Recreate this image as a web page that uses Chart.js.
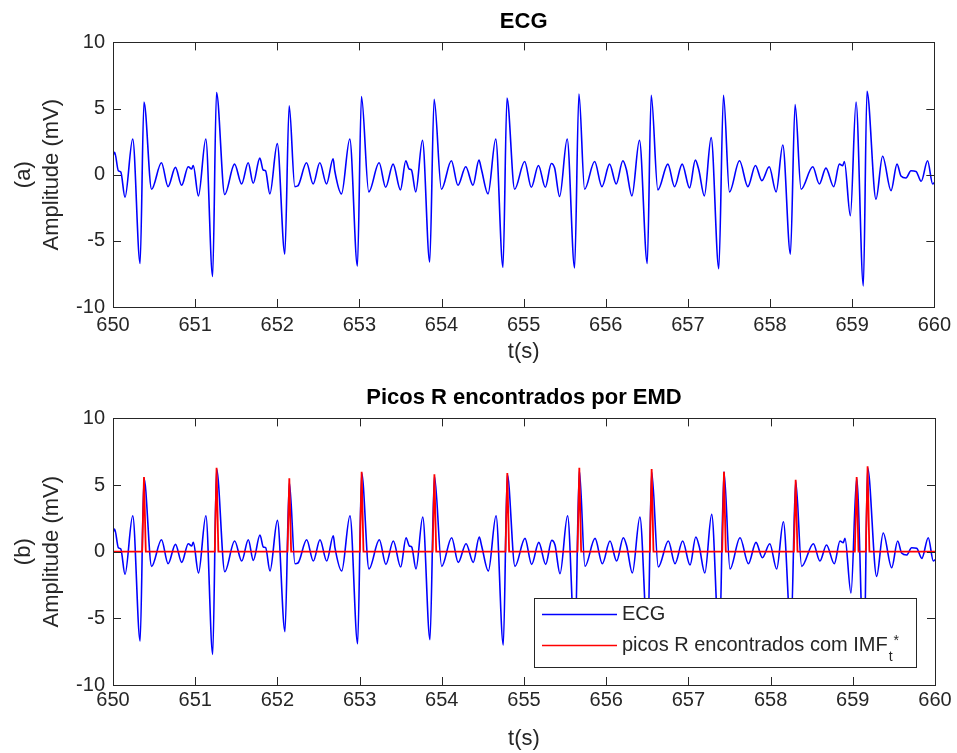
<!DOCTYPE html>
<html>
<head>
<meta charset="utf-8">
<title>ECG - Picos R encontrados por EMD</title>
<script src="https://cdn.jsdelivr.net/npm/chart.js@4/dist/chart.umd.min.js"></script>
<style>
  html, body { margin: 0; padding: 0; background: #fff; }
  #wrap { position: relative; width: 957px; height: 753px; }
  canvas { position: absolute; left: 0; }
</style>
</head>
<body>
<div id="wrap">
  <canvas id="ecg-top" width="957" height="376" style="top:0"></canvas>
  <canvas id="ecg-bottom" width="957" height="377" style="top:376px"></canvas>
</div>
<script>
// ECG (mV), one row per beat
const ecgT = [
  650.00, 650.02, 650.065, 650.095, 650.146, 650.24, 650.33, 650.377,
  650.47, 650.59, 650.67, 650.76, 650.836, 650.916, 650.957, 650.977, 651.04, 651.13, 651.213, 651.26,
  651.36, 651.48, 651.566, 651.646, 651.707, 651.788, 651.829, 651.857, 651.91, 652.0, 652.092, 652.145,
  652.214, 652.25, 652.356, 652.437, 652.518, 652.6, 652.68, 652.70, 652.782, 652.883, 652.976, 653.025,
  653.114, 653.24, 653.32, 653.41, 653.5, 653.565, 653.605, 653.634, 653.686, 653.768, 653.856, 653.91,
  653.999, 654.12, 654.2, 654.295, 654.383, 654.456, 654.485, 654.566, 654.66, 654.748, 654.797,
  654.89, 655.012, 655.093, 655.18, 655.264, 655.337, 655.377, 655.438, 655.53, 655.62, 655.673,
  655.742, 655.864, 655.953, 656.046, 656.127, 656.208, 656.249, 656.318, 656.41, 656.505, 656.553,
  656.634, 656.756, 656.837, 656.93, 657.02, 657.09, 657.133, 657.2, 657.283, 657.376, 657.433,
  657.506, 657.628, 657.73, 657.822, 657.9, 657.99, 658.074, 658.155, 658.248, 658.305,
  658.378, 658.52, 658.6, 658.68, 658.775, 658.844, 658.884, 658.905, 658.978, 659.047, 659.136, 659.18,
  659.29, 659.37, 659.473, 659.546, 659.594, 659.655, 659.716, 659.777, 659.84, 659.918, 659.98, 660.0
];
const ecgV = [
  1.4, 1.7, 0.3, 0.2, -1.7, 2.7, -6.7, 5.5,
  -1.1, 0.9, -0.9, 0.55, -0.8, 0.6, 0.43, 0.7, -1.6, 2.7, -7.7, 6.2,
  -1.5, 0.8, -0.7, 0.9, -0.65, 1.25, 0.35, 0.3, -1.45, 2.35, -6.0, 5.2,
  -0.9, -0.85, 0.9, -0.7, 0.9, -0.7, 1.2, 0.3, -1.45, 2.7, -6.9, 5.9,
  -1.3, 0.9, -0.95, 0.8, -1.15, 1.05, 0.43, 0.35, -1.3, 2.6, -6.6, 5.7,
  -1.1, 1.05, -0.8, 0.6, -0.8, 1.1, 0.43, -1.45, 2.7, -7.0, 5.8,
  -1.1, 1.0, -0.95, 0.7, -0.95, 0.85, 0.5, -1.65, 2.7, -7.05, 6.1,
  -1.1, 1.0, -0.9, 0.8, -0.7, 1.05, 0.43, -1.6, 2.6, -6.7, 6.0,
  -1.15, 0.8, -0.9, 0.8, -1.0, 1.1, 0.35, -1.6, 2.8, -7.1, 6.0,
  -1.3, 1.05, -0.9, 0.7, -0.45, 0.6, -1.3, 2.25, -6.0, 5.3,
  -1.1, 0.6, -0.7, 0.5, -0.9, 0.8, 0.68, 1.0, -3.1, 5.5, -8.4, 6.3,
  -1.85, 1.4, -1.2, 0.8, -0.1, -0.25, 0.3, 0.25, -0.5, 1.05, -0.7, -0.6
];

// R peaks found with IMF (zero outside the peaks)
const picosT = [
  650.0,
  650.355, 650.377, 650.399,
  651.238, 651.26, 651.282,
  652.123, 652.145, 652.167,
  653.003, 653.025, 653.047,
  653.888, 653.91, 653.932,
  654.775, 654.797, 654.819,
  655.651, 655.673, 655.695,
  656.531, 656.553, 656.575,
  657.411, 657.433, 657.455,
  658.283, 658.305, 658.327,
  659.025, 659.047, 659.069,
  659.158, 659.18, 659.202,
  660.0
];
const picosV = [
  0,
  0, 5.6, 0,
  0, 6.3, 0,
  0, 5.5, 0,
  0, 6.0, 0,
  0, 5.8, 0,
  0, 5.9, 0,
  0, 6.3, 0,
  0, 6.2, 0,
  0, 6.0, 0,
  0, 5.4, 0,
  0, 5.6, 0,
  0, 6.4, 0,
  0
];

const xTicks = [650, 651, 652, 653, 654, 655, 656, 657, 658, 659, 660];
const yTicks = [-10, -5, 0, 5, 10];

Chart.defaults.font.family = '"Liberation Sans", Arial, Helvetica, sans-serif';
Chart.defaults.color = '#262626';

const axisColor = '#262626';

// box round the axes with ticks pointing inwards, like matlab
const matlabAxes = {
    id: 'matlabAxes',
    afterDatasetsDraw(chart) {
        const { ctx, chartArea: a, scales: { x, y } } = chart;
        const len = 8;
        ctx.save();
        ctx.strokeStyle = axisColor;
        ctx.lineWidth = 1;
        ctx.beginPath();
        x.ticks.forEach(t => {
            const px = Math.round(x.getPixelForValue(t.value)) + 0.5;
            ctx.moveTo(px, a.bottom);
            ctx.lineTo(px, a.bottom - len);
            ctx.moveTo(px, a.top);
            ctx.lineTo(px, a.top + len);
        });
        y.ticks.forEach(t => {
            const py = Math.round(y.getPixelForValue(t.value)) + 0.5;
            ctx.moveTo(a.left, py);
            ctx.lineTo(a.left + len, py);
            ctx.moveTo(a.right, py);
            ctx.lineTo(a.right - len, py);
        });
        ctx.stroke();
        ctx.strokeRect(Math.round(a.left) + 0.5, Math.round(a.top) + 0.5,
            Math.round(a.width), Math.round(a.height));
        ctx.restore();
    }
};

// legend box in the lower right corner (IMF with subscript t and superscript *)
const boxLegend = {
    id: 'boxLegend',
    afterDraw(chart, args, opts) {
        if (!opts.items) return;
        const { ctx, chartArea: a } = chart;
        const x0 = Math.round(a.right - opts.right - opts.width);
        const y0 = Math.round(a.bottom - opts.bottom - opts.height);
        const fam = Chart.defaults.font.family;
        ctx.save();
        ctx.fillStyle = '#fff';
        ctx.fillRect(x0, y0, opts.width, opts.height);
        ctx.strokeStyle = axisColor;
        ctx.lineWidth = 1;
        ctx.strokeRect(x0 + 0.5, y0 + 0.5, opts.width, opts.height);
        ctx.textBaseline = 'middle';
        opts.items.forEach((it, i) => {
            const ly = y0 + 16.5 + i * 31;
            ctx.strokeStyle = it.color;
            ctx.lineWidth = 1.5;
            ctx.beginPath();
            ctx.moveTo(x0 + 8, ly);
            ctx.lineTo(x0 + 83, ly);
            ctx.stroke();
            ctx.fillStyle = '#262626';
            ctx.font = '20px ' + fam;
            let tx = x0 + 88;
            ctx.fillText(it.text, tx, ly);
            if (it.sub) {
                tx += ctx.measureText(it.text).width + 1;
                ctx.font = '14px ' + fam;
                ctx.fillText(it.sub, tx, ly + 12);
                ctx.fillText(it.sup, tx + ctx.measureText(it.sub).width + 1, ly - 4);
            }
        });
        ctx.restore();
    }
};

function makeChart(id, cfg) {
    const datasets = [{
        label: 'ECG',
        data: ecgT.map((t, i) => ({ x: t, y: ecgV[i] })),
        borderColor: '#0000ff',
        borderWidth: 1.6,
        pointRadius: 0,
        cubicInterpolationMode: 'monotone',
        order: 1
    }];
    if (cfg.picos) {
        datasets.push({
            label: 'picos R encontrados com IMF',
            data: picosT.map((t, i) => ({ x: t, y: picosV[i] })),
            borderColor: '#ff0000',
            borderWidth: 1.8,
            pointRadius: 0,
            tension: 0,
            order: 0
        });
    }
    return new Chart(document.getElementById(id), {
        type: 'line',
        data: { datasets },
        options: {
            responsive: false,
            animation: false,
            devicePixelRatio: 1,
            layout: { padding: { left: 0, right: 22, top: 0, bottom: 0 } },
            plugins: {
                legend: { display: false },
                tooltip: { enabled: false },
                title: {
                    display: true,
                    text: cfg.title,
                    fullSize: false,
                    color: '#000',
                    font: { size: 22, weight: 'bold' },
                    padding: { top: 9, bottom: 7 }
                },
                boxLegend: cfg.legend || {}
            },
            scales: {
                x: {
                    type: 'linear',
                    min: 650,
                    max: 660,
                    afterBuildTicks: s => { s.ticks = xTicks.map(v => ({ value: v })); },
                    afterFit: s => { s.height = cfg.xHeight; },
                    grid: { display: false, drawTicks: false },
                    border: { display: false },
                    ticks: { font: { size: 20 }, padding: cfg.xPad, maxRotation: 0, autoSkip: false },
                    title: {
                        display: true,
                        text: 't(s)',
                        font: { size: 22 },
                        padding: { top: 0, bottom: cfg.xTitlePad }
                    }
                },
                y: {
                    min: -10,
                    max: 10,
                    afterBuildTicks: s => { s.ticks = yTicks.map(v => ({ value: v })); },
                    afterFit: s => { s.width = 113; },
                    grid: { display: false, drawTicks: false },
                    border: { display: false },
                    ticks: { font: { size: 20 }, padding: 8 },
                    title: {
                        display: true,
                        text: [cfg.tag, 'Amplitude (mV)'],
                        font: { size: 22, lineHeight: 1.27 },
                        padding: { top: 10, bottom: 0 }
                    }
                }
            }
        },
        plugins: [matlabAxes, boxLegend]
    });
}

makeChart('ecg-top', {
    title: 'ECG', tag: '(a)',
    xHeight: 69, xPad: 6, xTitlePad: 11
});

makeChart('ecg-bottom', {
    title: 'Picos R encontrados por EMD', tag: '(b)',
    xHeight: 68, xPad: 3, xTitlePad: 1, picos: true,
    legend: {
        width: 382, height: 69, right: 19, bottom: 18,
        items: [
            { text: 'ECG', color: '#0000ff' },
            { text: 'picos R encontrados com IMF', sub: 't', sup: '*', color: '#ff0000' }
        ]
    }
});
</script>
</body>
</html>
